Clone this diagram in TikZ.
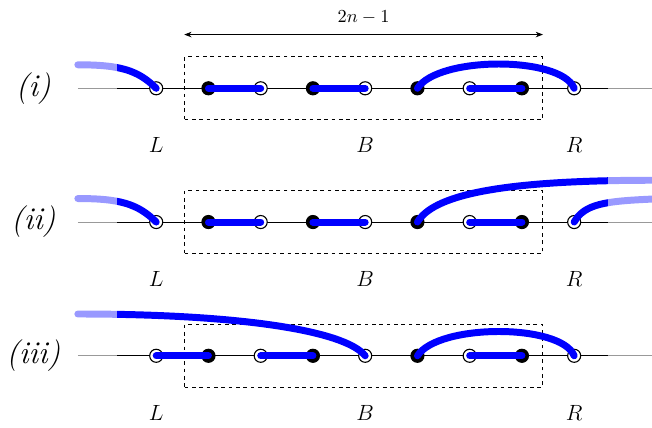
\documentclass[tikz,border=0pt]{standalone}
\usetikzlibrary{arrows.meta, positioning}

\begin{document}
\begin{tikzpicture}[
        open/.style={draw, fill=white, circle, inner sep=0pt, minimum size=0.25cm, line width=0.6pt},
        full/.style={draw, fill=black, circle, inner sep=0pt, minimum size=0.25cm, line width=0.6pt},
        edge/.style={blue, line width=3.8pt, line cap=round},
        base/.style={line width=0.5pt},
        block/.style={draw, dash pattern=on 2pt off 2pt, line width=0.5pt, minimum width=6.85cm, minimum height=1.2cm},
        side/.style={font=\large},
        rowname/.style={font=\LARGE\itshape}
    ]
        \useasboundingbox (-2.99,1.69) rectangle (9.49,-6.5);

        % the three rows: line, block, vertices, labels
        \foreach \r/\y/\lbl in {a/0/{(i)}, b/-2.56/{(ii)}, c/-5.12/{(iii)}} {
            \begin{scope}[yshift=\y cm]
                \coordinate (\r-w) at (-1.5,0);
                \coordinate (\r-e) at (9.5,0);
                \draw[base] (\r-w) -- (\r-e);
                \node[block] (\r-box) at (3.97,0) {};
                \foreach \i in {0,2,4,6,8} \node[open] (\r\i) at (\i,0) {};
                \foreach \i in {1,3,5,7} \node[full] (\r\i) at (\i,0) {};
                \node[side] (\r-L) at ([yshift=-1.09cm]\r0) {$L$};
                \node[side] (\r-B) at ([yshift=-1.09cm]\r4) {$B$};
                \node[side] (\r-R) at ([yshift=-1.09cm]\r8) {$R$};
                \node[rowname] (\r-name) at (-2.35,0) {\lbl};
            \end{scope}
        }

        % (i)
        \coordinate (a-lt) at ([shift={(-1.5,0.45)}]a0);
        \draw[edge] (a-lt) .. controls +(0.8,0) and +(-0.35,0.35) .. (a0.center);
        \draw[edge] (a1.center) -- (a2.center);
        \draw[edge] (a3.center) -- (a4.center);
        \draw[edge] (a6.center) -- (a7.center);
        \draw[edge] (a5.center) .. controls +(0.4,0.62) and +(-0.25,0.62) .. (a8.center);

        % (ii)
        \coordinate (b-lt) at ([shift={(-1.5,0.45)}]b0);
        \coordinate (b-far) at ([shift={(4.5,0.8)}]b5);
        \coordinate (b-rt) at ([shift={(1.5,0.44)}]b8);
        \draw[edge] (b-lt) .. controls +(0.8,0) and +(-0.35,0.35) .. (b0.center);
        \draw[edge] (b1.center) -- (b2.center);
        \draw[edge] (b3.center) -- (b4.center);
        \draw[edge] (b6.center) -- (b7.center);
        \draw[edge] (b5.center) .. controls +(0.3,0.5) and +(-3,0) .. (b-far);
        \draw[edge] (b8.center) .. controls +(0.2,0.35) and +(-0.9,-0.04) .. (b-rt);

        % (iii)
        \coordinate (c-far) at ([shift={(-1.5,0.8)}]c0);
        \draw[edge] (c0.center) -- (c1.center);
        \draw[edge] (c2.center) -- (c3.center);
        \draw[edge] (c6.center) -- (c7.center);
        \draw[edge] (c5.center) .. controls +(0.4,0.62) and +(-0.25,0.62) .. (c8.center);
        \draw[edge] (c-far) .. controls +(3,0) and +(-0.4,0.5) .. (c4.center);

        % fade the ends
        \fill[white, opacity=0.6] (-1.65,1) rectangle (-0.75,-5.3);
        \fill[white, opacity=0.6] (8.65,1) rectangle (9.6,-5.3);

        \draw[{Stealth[length=4pt]}-{Stealth[length=4pt]}] ([yshift=0.42cm]a-box.north west) -- node[above=2pt] (len) {$2n-1$} ([yshift=0.42cm]a-box.north east);
    \end{tikzpicture}
\end{document}
